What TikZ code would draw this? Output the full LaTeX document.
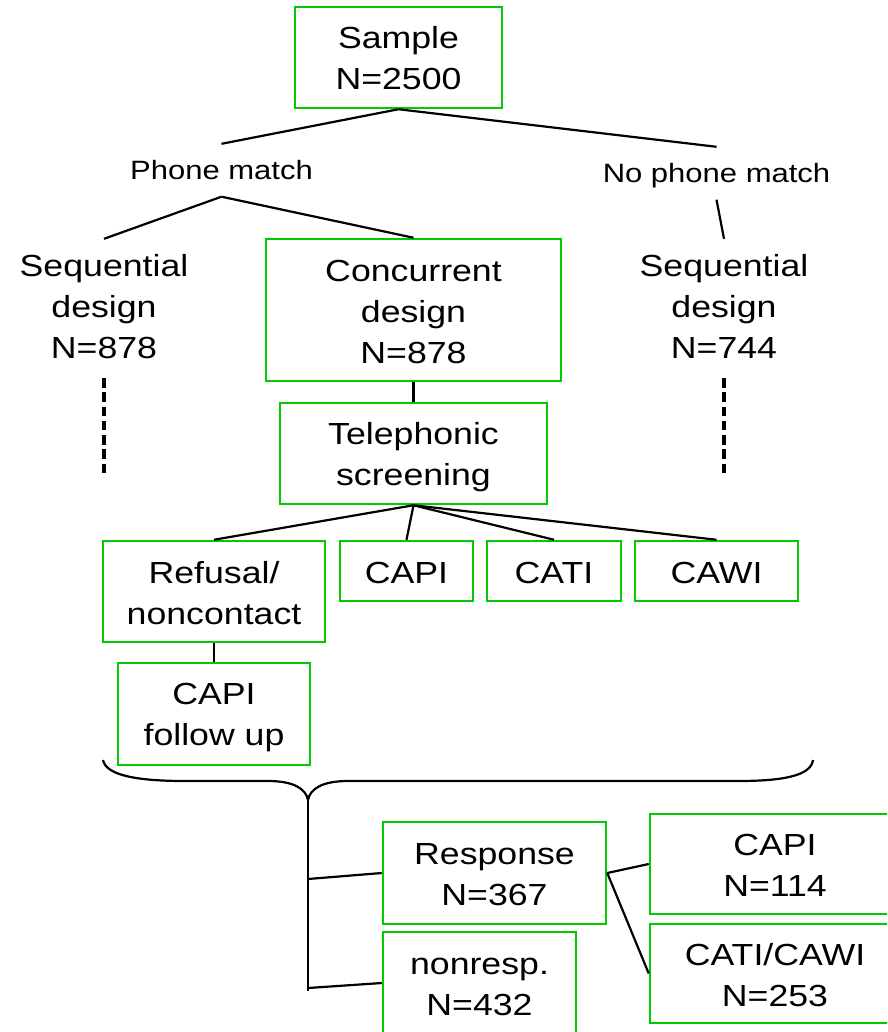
\documentclass[tikz,border=0pt]{standalone}
\usepackage{fontspec}
\setmainfont{Liberation Sans}[FakeStretch=1.17]
\definecolor{boxgreen}{RGB}{0,204,0}
% fixed line box so every text line sits on the same grid
\newcommand\lnstrut{\rule[-5pt]{0pt}{34pt}}
\begin{document}
\begin{tikzpicture}[x=1pt,y=-1pt,
  box/.style={draw=boxgreen,line width=2.5pt,inner sep=0pt,align=center,
              font=\fontsize{30.5}{41}\selectfont},
  lbl/.style={inner xsep=0pt,inner ysep=8pt,align=center,
              font=\fontsize{30.5}{41}\selectfont},
  small/.style={font=\fontsize{26.5}{32}\selectfont,text height=19.5pt,
                text depth=0pt,inner xsep=0pt,inner ysep=16.5pt},
  link/.style={draw=black,line width=2.2pt,line join=round},
  dots/.style={draw=black,line width=4pt,dash pattern=on 9.5pt off 4.75pt}]
\useasboundingbox (0,0) rectangle (887,1032);
\clip (0,0) rectangle (887,1032);

% sample and the phone-match split
\node[box,minimum width=207pt,minimum height=101pt] (sample) at (398.5,57.5)
  {\lnstrut Sample\\\lnstrut N=2500};
\node[small,anchor=base] (phone) at (221.5,180) {Phone match};
\node[small,anchor=base] (nophone) at (716.5,183) {No phone match};

% design groups
\node[lbl] (seqL) at (104,305)
  {\lnstrut Sequential\\\lnstrut design\\\lnstrut N=878};
\node[box,minimum width=295pt,minimum height=142pt] (conc) at (413.5,310)
  {\lnstrut Concurrent\\\lnstrut design\\\lnstrut N=878};
\node[lbl] (seqR) at (724,305)
  {\lnstrut Sequential\\\lnstrut design\\\lnstrut N=744};

% screening and its outcomes
\node[box,minimum width=267pt,minimum height=101pt] (tele) at (413.5,453.5)
  {\lnstrut Telephonic\\\lnstrut screening};
\node[box,minimum width=222pt,minimum height=101pt] (refusal) at (214,591.5)
  {\lnstrut Refusal/\\\lnstrut noncontact};
\node[box,minimum width=133pt,minimum height=60pt] (capi) at (406.5,571)
  {\lnstrut CAPI};
\node[box,minimum width=134pt,minimum height=60pt] (cati) at (554,571)
  {\lnstrut CATI};
\node[box,minimum width=163pt,minimum height=60pt] (cawi) at (716.5,571)
  {\lnstrut CAWI};
\node[box,minimum width=192pt,minimum height=102pt] (followup) at (214,714)
  {\lnstrut CAPI\\\lnstrut follow up};

% final outcome
\node[box,minimum width=223pt,minimum height=102pt] (response) at (494.5,873)
  {\lnstrut Response\\\lnstrut N=367};
\node[box,minimum width=193pt,minimum height=102pt] (nonresp) at (479.5,983)
  {\lnstrut nonresp.\\\lnstrut N=432};
\node[box,minimum width=250pt,minimum height=100pt] (capi2) at (775,864)
  {\lnstrut CAPI\\\lnstrut N=114};
\node[box,minimum width=250pt,minimum height=99pt] (catiawi) at (775,973.5)
  {\lnstrut CATI/CAWI\\\lnstrut N=253};

% tree connectors
\draw[link] (sample.south) -- (phone.north);
\draw[link] (sample.south) -- (nophone.north);
\draw[link] (phone.south) -- (seqL.north);
\draw[link] (phone.south) -- (conc.north);
\draw[link] (nophone.south) -- (seqR.north);
\draw[link] (conc.south) -- (tele.north);
\draw[link] (tele.south) -- (refusal.north);
\draw[link] (tele.south) -- (capi.north);
\draw[link] (tele.south) -- (cati.north);
\draw[link] (tele.south) -- (cawi.north);
\draw[link] (refusal.south) -- (followup.north);

% sequential designs continue (not shown)
\coordinate (seqLend) at (104,472.8);
\coordinate (seqRend) at (724,472.8);
\draw[dots] ([yshift=-7pt]seqL.south) -- (seqLend);
\draw[dots] ([yshift=-7pt]seqR.south) -- (seqRend);

% brace gathering all fieldwork outcomes
\coordinate (tip) at (308,800);
\draw[link] (103,760) .. controls (106,776) and (140,781) .. (185,781)
  -- (268,781) .. controls (294,781) and (306,789) .. (tip)
  .. controls (310,789) and (322,781) .. (348,781)
  -- (738,781) .. controls (782,781) and (811,776) .. (813,760);

% trunk to response / nonresponse
\coordinate (trunk) at (308,991);
\coordinate (jr) at (308,879);
\coordinate (jn) at (308,988);
\draw[link] (tip) -- (trunk);
\draw[link] (jr) -- (response.west);
\draw[link] (jn) -- (nonresp.west);
\draw[link] (response.east) -- (capi2.west);
\draw[link] (response.east) -- (catiawi.west);
\end{tikzpicture}
\end{document}
